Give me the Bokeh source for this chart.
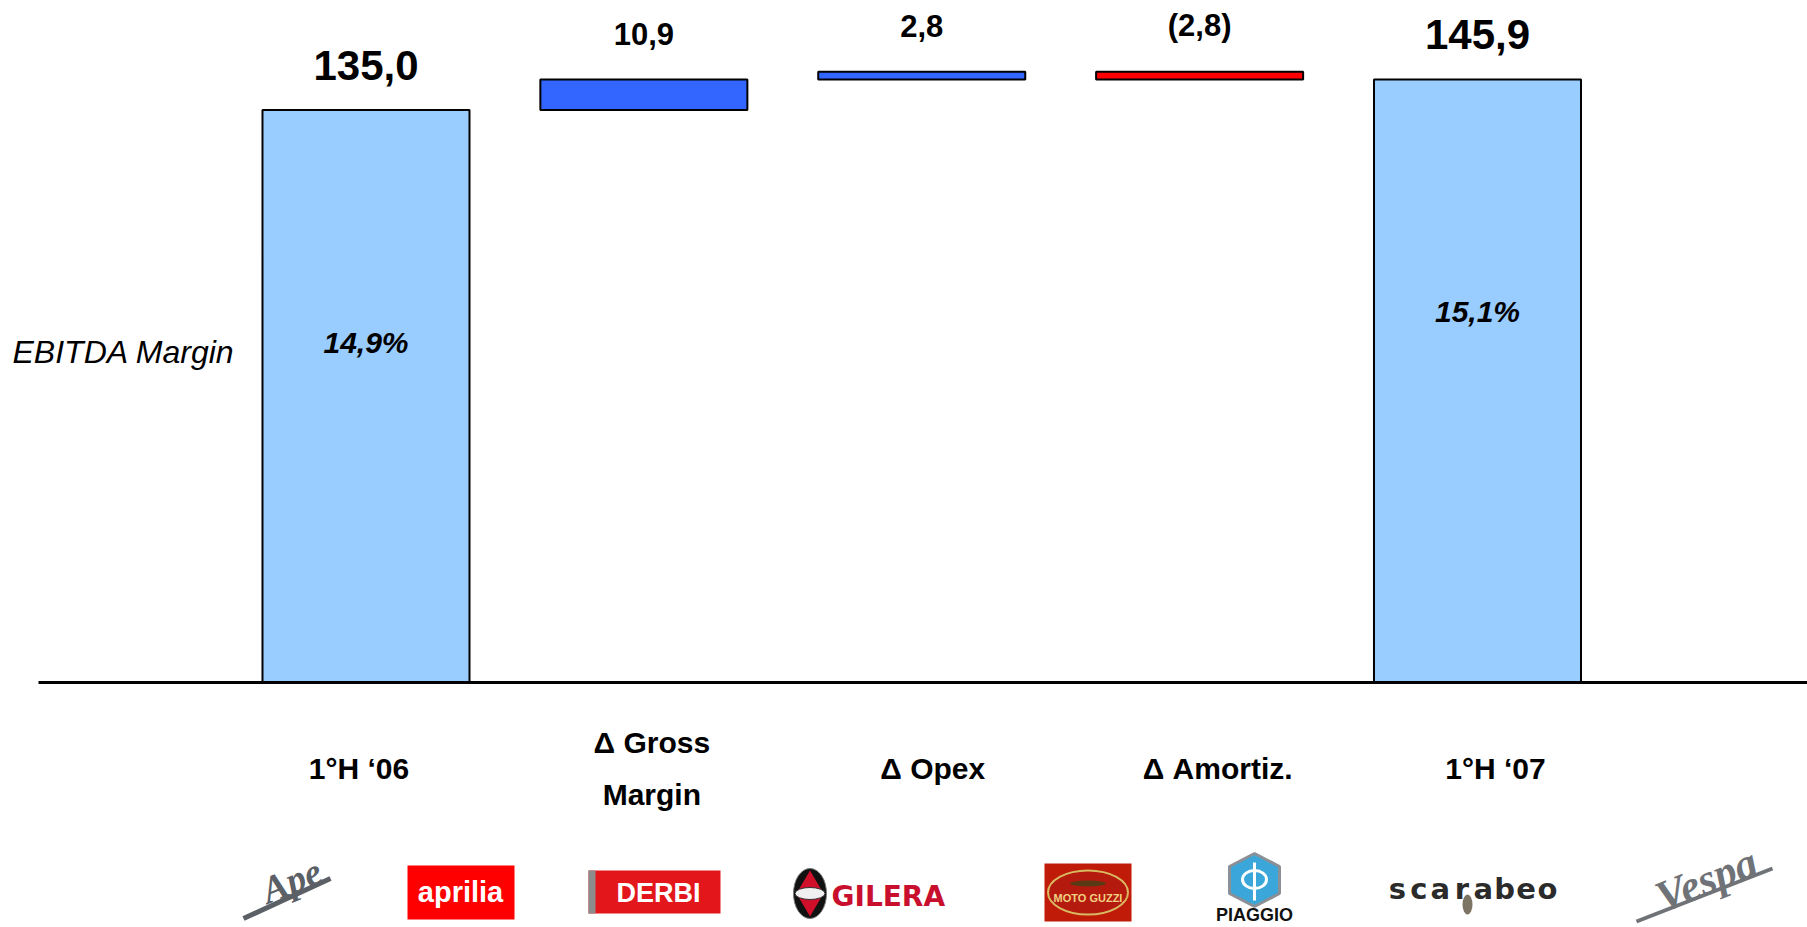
import numpy as np
from bokeh.plotting import figure
from bokeh.models import Range1d
from bokeh.core.properties import value
from bokeh.embed import file_html
from bokeh.resources import INLINE

# ---------------- data ----------------
categories = ["1°H ‘06", "Δ Gross\nMargin", "Δ Opex", "Δ Amortiz.", "1°H ‘07"]
amounts = [135.0, 10.9, 2.8, -2.8, 145.9]
kinds = ["total", "delta", "delta", "delta", "total"]
ebitda_margin = [14.9, None, None, None, 15.1]
brands = ["Ape", "aprilia", "DERBI", "GILERA", "MOTO GUZZI", "PIAGGIO", "scarabeo", "Vespa"]

# ---------------- layout ----------------
W, H = 1807, 927
AXIS_BASE = -69.6          # value sitting on the drawn baseline (truncated axis)
FONT = value("Liberation Sans")


def fmt(v):
    s = f"{abs(v):.1f}".replace(".", ",")
    return f"({s})" if v < 0 else s


xs = list(range(len(categories)))
bottoms, tops, colors = [], [], []
running = 0.0
for k, v in zip(kinds, amounts):
    if k == "total":
        bottoms.append(AXIS_BASE)
        tops.append(v)
        running = v
        colors.append("#99CCFF")
    else:
        lo, hi = sorted([running, running + v])
        bottoms.append(lo)
        tops.append(hi)
        running += v
        colors.append("#3366FF" if v >= 0 else "#FF0000")

p = figure(width=W, height=H,
           x_range=Range1d(-1.3153, 5.1876), y_range=Range1d(-157.16, 174.15),
           output_backend="svg", toolbar_location=None,
           x_axis_location=None, y_axis_location=None,
           min_border=0, outline_line_color=None,
           background_fill_color="white", border_fill_color="white")
p.grid.visible = False
p.extra_x_ranges = {"px": Range1d(0, W)}
p.extra_y_ranges = {"px": Range1d(H, 0)}

# bars
p.vbar(x=xs, bottom=bottoms, top=tops, width=0.745,
       fill_color=colors, line_color="black", line_width=2)

# baseline
p.segment(x0=[38], x1=[W], y0=[AXIS_BASE], y1=[AXIS_BASE],
          x_range_name="px", line_color="black", line_width=3)

# value labels
tot_i = [i for i, k in enumerate(kinds) if k == "total"]
del_i = [i for i, k in enumerate(kinds) if k == "delta"]
p.text(x=[xs[i] for i in tot_i], y=[tops[i] for i in tot_i],
       text=[fmt(amounts[i]) for i in tot_i], y_offset=-45,
       text_font=FONT, text_font_size="42px", text_font_style="bold",
       text_align="center", text_baseline="middle", text_color="black")
p.text(x=[xs[i] for i in del_i], y=[tops[i] for i in del_i],
       text=[fmt(amounts[i]) for i in del_i], y_offset=-46,
       text_font=FONT, text_font_size="31px", text_font_style="bold",
       text_align="center", text_baseline="middle", text_color="black")

# EBITDA margin labels inside total bars
m_i = [i for i, m in enumerate(ebitda_margin) if m is not None]
p.text(x=[xs[i] for i in m_i], y=[tops[i] for i in m_i],
       text=[f"{ebitda_margin[i]:.1f}%".replace(".", ",") for i in m_i], y_offset=232,
       text_font=FONT, text_font_size="30px", text_font_style="bold italic",
       text_align="center", text_baseline="middle", text_color="black")

p.text(x=[12], y=[351], text=["EBITDA Margin"], x_range_name="px", y_range_name="px",
       text_font=FONT, text_font_size="32px", text_font_style="italic",
       text_align="left", text_baseline="middle", text_color="black")

# category labels (slightly wider spacing than the bars, as in the slide)
p.text(x=xs, y=[AXIS_BASE] * len(xs), text=categories, y_offset=86,
       x_offset=[-7, 8, 11, 18, 18],
       text_font=FONT, text_font_size="30px", text_font_style="bold",
       text_align="center", text_baseline="middle", text_line_height=1.6,
       text_color="black")

# ---------------- brand logos (decorative) ----------------
PX = dict(x_range_name="px", y_range_name="px")

# Ape
p.segment(x0=[243], y0=[918], x1=[330], y1=[878], line_color="#5b6066", line_width=5, **PX)
p.text(x=[291], y=[880], text=[brands[0]], angle=0.38, text_font=value("Liberation Serif"),
       text_font_size="38px", text_font_style="bold italic", text_color="#5b6066",
       text_align="center", text_baseline="middle", **PX)

# aprilia
p.quad(left=[407], right=[514], top=[865], bottom=[919], fill_color="#FF0000", line_color=None, **PX)
p.text(x=[460], y=[891], text=[brands[1]], text_font=FONT, text_font_size="29px",
       text_font_style="bold", text_color="white", text_align="center",
       text_baseline="middle", **PX)

# DERBI
p.quad(left=[588], right=[720], top=[870], bottom=[913], fill_color="#E3161B", line_color=None, **PX)
p.quad(left=[588], right=[595], top=[870], bottom=[913], fill_color="#8c8c8c", line_color=None, **PX)
p.text(x=[658], y=[892], text=[brands[2]], text_font=FONT, text_font_size="27px",
       text_font_style="bold", text_color="white", text_align="center",
       text_baseline="middle", **PX)

# GILERA
p.ellipse(x=[809.5], y=[893], width=[33], height=[50], fill_color="#111111",
          line_color="#777777", line_width=1, **PX)
p.patch(x=[809.5, 823, 809.5, 796], y=[870, 893, 916, 893], fill_color="#D0102A", line_color=None, **PX)
p.ellipse(x=[809.5], y=[893], width=[30], height=[12], fill_color="#f0f0f0",
          line_color="#333333", line_width=1, **PX)
p.text(x=[831], y=[896], text=[brands[3]], text_font=value("DejaVu Sans"), text_font_size="28px",
       text_font_style="bold", text_color="#C8102E", text_align="left",
       text_baseline="middle", **PX)

# MOTO GUZZI
p.quad(left=[1044], right=[1131], top=[863], bottom=[921], fill_color="#C01A08", line_color=None, **PX)
p.ellipse(x=[1087.5], y=[892], width=[80], height=[44], fill_color="#B51A0E",
          line_color="#D8B860", line_width=2, **PX)
p.ellipse(x=[1087.5], y=[883], width=[36], height=[6], fill_color="#5a3a14", line_color=None, **PX)
p.text(x=[1087.5], y=[897], text=[brands[4]], text_font=FONT, text_font_size="11px",
       text_font_style="bold", text_color="#F0D080", text_align="center",
       text_baseline="middle", **PX)

# PIAGGIO
p.patch(x=[1254, 1279, 1279, 1254, 1229, 1229], y=[853, 866, 893, 906, 893, 866],
        fill_color="#3AA6D9", line_color="#8a9096", line_width=3, **PX)
p.ellipse(x=[1254], y=[879], width=[24], height=[18], fill_color=None,
          line_color="white", line_width=3, **PX)
p.segment(x0=[1254], y0=[862], x1=[1254], y1=[900], line_color="white", line_width=3, **PX)
p.text(x=[1254], y=[914], text=[brands[5]], text_font=FONT, text_font_size="18px",
       text_font_style="bold", text_color="#111111", text_align="center",
       text_baseline="middle", **PX)

# scarabeo
letters = list(brands[6])
p.text(x=list(np.linspace(1397, 1547, len(letters))), y=[888] * len(letters), text=letters,
       text_font=value("DejaVu Sans"), text_font_size="29px", text_font_style="bold",
       text_color="#2b2b2b", text_align="center", text_baseline="middle", **PX)
p.ellipse(x=[1467], y=[904], width=[10], height=[20], fill_color="#7d7466", line_color=None, **PX)

# Vespa
p.segment(x0=[1636], y0=[921], x1=[1772], y1=[868], line_color="#6f7378", line_width=4, **PX)
p.text(x=[1706], y=[879], text=[brands[7]], angle=0.38, text_font=value("Liberation Serif"),
       text_font_size="44px", text_font_style="bold italic", text_color="#6f7378",
       text_align="center", text_baseline="middle", **PX)

open("out.html", "w").write(file_html(p, INLINE))
